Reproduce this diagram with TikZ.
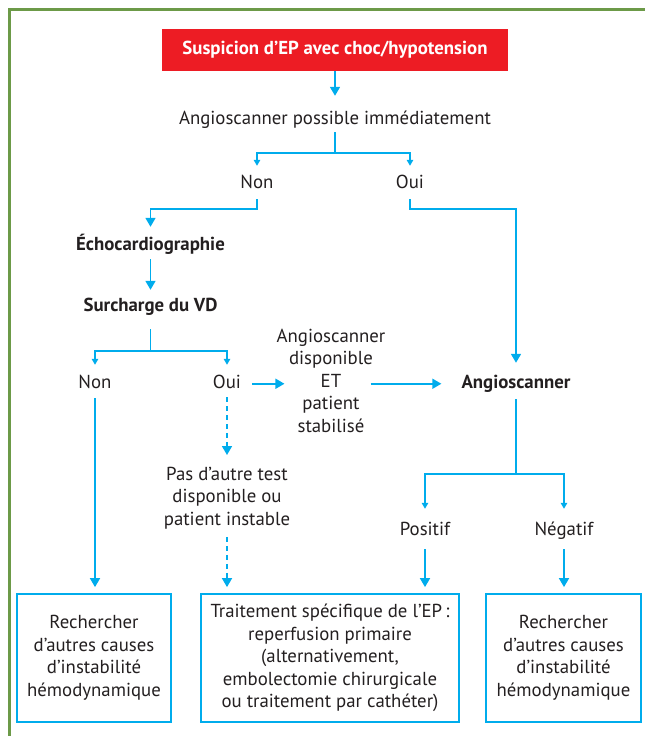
\documentclass[tikz,border=0pt]{standalone}
\usepackage{fontspec}
\setmainfont{PT Sans}
\usetikzlibrary{arrows.meta}
\definecolor{cy}{RGB}{0,172,236}
\definecolor{ink}{RGB}{35,31,32}
\definecolor{redbox}{RGB}{237,28,36}
\definecolor{frame}{RGB}{108,154,72}
\begin{document}
\begin{tikzpicture}[x=1pt,y=-1pt,
  every node/.style={inner sep=0pt, text=ink, align=center},
  reg/.style={font=\fontsize{18.8}{22.5}\selectfont},
  bld/.style={font=\fontsize{18.8}{22.5}\selectfont\bfseries},
  lbl/.style={reg, anchor=base, text height=12.5pt, text depth=4pt},
  blbl/.style={bld, anchor=base, text height=12.5pt, text depth=4pt},
  link/.style={draw=cy, line width=1.7pt},
  big/.style={link, -{Triangle[length=9pt,width=10pt]}},
  sml/.style={link, line width=1.4pt, -{Triangle[length=6pt,width=6.5pt]}},
  dsh/.style={big, dash pattern=on 5pt off 4pt},
  outbox/.style={draw=cy, line width=1.8pt, minimum height=128pt, reg}]

\useasboundingbox (0,0) rectangle (645,736);
\draw[draw=frame, line width=3pt] (9.5,736) -- (9.5,9.5) -- (645,9.5);

% nodes
\node[fill=redbox, minimum width=346pt, minimum height=42pt, text=white, bld] (susp) at (335,49.5) {Suspicion d’EP avec choc/hypotension};
\node[lbl] (angio) at (335,124) {Angioscanner possible immédiatement};
\node[lbl] (non1) at (257,188) {Non};
\node[lbl] (oui1) at (410,188) {Oui};
\node[blbl] (echo) at (150.5,250) {Échocardiographie};
\node[blbl] (surch) at (150.5,311) {Surcharge du VD};
\node[lbl] (non2) at (95,388) {Non};
\node[lbl] (oui2) at (227,388) {Oui};
\node[reg, anchor=north] (stab) at (331,328.5) {Angioscanner\\disponible\\ET\\patient\\stabilisé};
\node[blbl] (angiob) at (516,388) {Angioscanner};
\node[reg, anchor=north] (pas) at (227,466.5) {Pas d’autre test\\disponible ou\\patient instable};
\node[lbl] (pos) at (425,535) {Positif};
\node[lbl] (neg) at (564,535) {Négatif};

\node[outbox, minimum width=154pt] (box1) at (94,658) {Rechercher\\d’autres causes\\d’instabilité\\hémodynamique};
\node[outbox, minimum width=258pt] (box2) at (330,658) {Traitement spécifique de l’EP\,:\\reperfusion primaire\\(alternativement,\\embolectomie chirurgicale\\ou traitement par cathéter)};
\node[outbox, minimum width=155pt] (box3) at (563.5,658) {Rechercher\\d’autres causes\\d’instabilité\\hémodynamique};

% branch points
\coordinate (b1) at (335,153);
\coordinate (c1) at (150.5,209);
\coordinate (c2) at (516,209);
\coordinate (b2) at (150.5,351);
\coordinate (b3) at (516,474);

% connectors
\draw[big, shorten >=15.5pt] (susp.south) -- (angio.north);
\draw[link, shorten <=4pt] (angio.south) -- (b1);
\draw[sml, shorten >=9.5pt] (b1) -| (non1.north);
\draw[sml, shorten >=9.5pt] (b1) -| (oui1.north);
\draw[big, shorten <=7pt, shorten >=10.5pt] (non1.south) |- (c1) -- (echo.north);
\draw[big, shorten <=7pt, shorten >=12.5pt] (oui1.south) |- (c2) -- (angiob.north);
\draw[big, shorten <=5pt, shorten >=8.5pt] (echo.south) -- (surch.north);
\draw[link, shorten <=14pt] (surch.south) -- (b2);
\draw[sml, shorten >=10.5pt] (b2) -| (non2.north);
\draw[sml, shorten >=10.5pt] (b2) -| (oui2.north);
\draw[big, shorten <=11pt, shorten >=-8pt] (oui2.east) -- (oui2.east -| stab.west);
\draw[big, shorten <=-15pt, shorten >=20pt] (oui2.east -| stab.east) -- (oui2.east -| angiob.west);
\draw[big, shorten <=6pt, shorten >=6pt] (non2.south) -- (non2.south |- box1.north);
\draw[dsh, shorten <=5pt, shorten >=11.5pt] (oui2.south) -- (pas.north);
\draw[dsh, shorten <=8pt, shorten >=6pt] (pas.south) -- (pas.south |- box2.north);
\draw[link, shorten <=7pt] (angiob.south) -- (b3);
\draw[sml, shorten >=13.5pt] (b3) -| (pos.north);
\draw[sml, shorten >=13.5pt] (b3) -| (neg.north);
\draw[big, shorten <=10pt, shorten >=6pt] (pos.south) -- (pos.south |- box2.north);
\draw[big, shorten <=10pt, shorten >=6pt] (neg.south) -- (neg.south |- box3.north);
\end{tikzpicture}
\end{document}
